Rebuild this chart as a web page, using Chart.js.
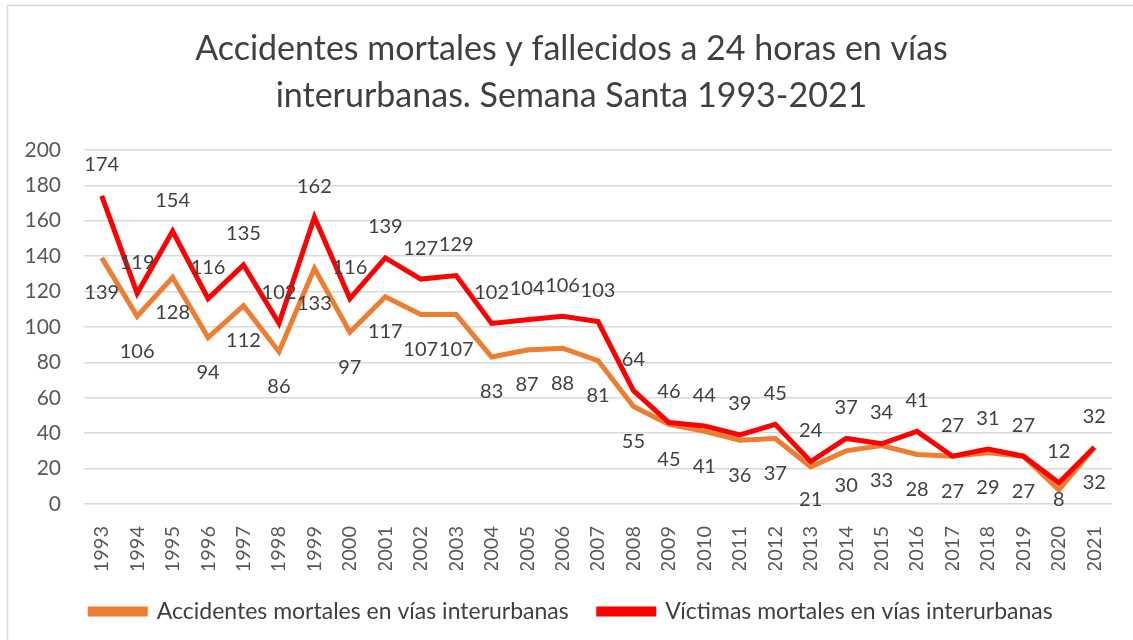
<!DOCTYPE html>
<html>
<head>
<meta charset="utf-8">
<script src="https://cdn.jsdelivr.net/npm/chart.js@4"></script>
<style>
    html, body { margin: 0; padding: 0; background: #ffffff; }
    #wrap { width: 1133px; height: 640px; }
</style>
</head>
<body>
<div id="wrap"><canvas id="accChart" width="1133" height="640"></canvas></div>
<script>
const years = ['1993', '1994', '1995', '1996', '1997', '1998', '1999', '2000', '2001', '2002',
    '2003', '2004', '2005', '2006', '2007', '2008', '2009', '2010', '2011', '2012',
    '2013', '2014', '2015', '2016', '2017', '2018', '2019', '2020', '2021'];
const accidentes = [139, 106, 128, 94, 112, 86, 133, 97, 117, 107,
    107, 83, 87, 88, 81, 55, 45, 41, 36, 37,
    21, 30, 33, 28, 27, 29, 27, 8, 32];
const victimas = [174, 119, 154, 116, 135, 102, 162, 116, 139, 127,
    129, 102, 104, 106, 103, 64, 46, 44, 39, 45,
    24, 37, 34, 41, 27, 31, 27, 12, 32];
const yTicks = [0, 20, 40, 60, 80, 100, 120, 140, 160, 180, 200];

const FONT = 'Lato, "Open Sans", sans-serif';

// etiquetas de valor: víctimas arriba, accidentes abajo (sin salir del área)
const valueLabels = {
    id: 'valueLabels',
    afterDatasetsDraw(chart) {
        const ctx = chart.ctx;
        const bottom = chart.chartArea.bottom - 4;
        ctx.save();
        ctx.font = '20px ' + FONT;
        ctx.fillStyle = '#404040';
        ctx.textAlign = 'center';
        ctx.textBaseline = 'middle';
        chart.data.datasets.forEach((ds, i) => {
            const meta = chart.getDatasetMeta(i);
            const off = ds.labelPos === 'above' ? -31 : 35;
            meta.data.forEach((pt, j) => {
                ctx.fillText(String(ds.data[j]), pt.x, Math.min(pt.y + off, bottom));
            });
        });
        ctx.restore();
    }
};

// marco gris del gráfico
const frame = {
    id: 'frame',
    beforeDraw(chart) {
        const ctx = chart.ctx;
        ctx.save();
        ctx.fillStyle = '#ffffff';
        ctx.fillRect(0, 0, chart.width, chart.height);
        ctx.strokeStyle = '#d9d9d9';
        ctx.lineWidth = 1.5;
        ctx.beginPath();
        ctx.moveTo(7.5, chart.height + 2);
        ctx.lineTo(7.5, 5.5);
        ctx.lineTo(chart.width + 2, 5.5);
        ctx.stroke();
        ctx.restore();
    }
};

const config = {
    type: 'line',
    data: {
        labels: years,
        datasets: [
            {
                label: 'Accidentes mortales en vías interurbanas',
                data: accidentes,
                borderColor: '#ED7D31',
                backgroundColor: '#ED7D31',
                borderWidth: 5,
                pointRadius: 0,
                tension: 0,
                order: 2,
                labelPos: 'below'
            },
            {
                label: 'Víctimas mortales en vías interurbanas',
                data: victimas,
                borderColor: '#FF0000',
                backgroundColor: '#FF0000',
                borderWidth: 5,
                pointRadius: 0,
                tension: 0,
                order: 1,
                labelPos: 'above'
            }
        ]
    },
    options: {
        responsive: false,
        animation: false,
        layout: {
            padding: { left: 10, right: 0, top: 5, bottom: 7 }
        },
        scales: {
            x: {
                offset: true,
                grid: { display: false },
                border: { display: false },
                afterFit(axis) {
                    axis.height = 66;
                },
                ticks: {
                    color: '#595959',
                    font: { family: FONT, size: 20 },
                    minRotation: 90,
                    maxRotation: 90,
                    autoSkip: false,
                    padding: 14
                }
            },
            y: {
                min: 0,
                max: 200,
                afterBuildTicks(axis) {
                    axis.ticks = yTicks.map(v => ({ value: v }));
                },
                afterFit(axis) {
                    axis.width = 74;
                },
                grid: { color: '#d9d9d9', lineWidth: 1.5, drawTicks: false },
                border: { display: false },
                ticks: {
                    color: '#595959',
                    font: { family: FONT, size: 21 },
                    padding: 23
                }
            },
            // eje vacío para dejar margen a la derecha
            y2: {
                position: 'right',
                grid: { display: false },
                border: { display: false },
                ticks: { display: false },
                afterFit(axis) {
                    axis.width = 21;
                }
            }
        },
        plugins: {
            title: {
                display: true,
                text: ['Accidentes mortales y fallecidos a 24 horas en vías', 'interurbanas. Semana Santa 1993-2021'],
                color: '#404040',
                font: { family: FONT, size: 34, weight: 'normal', lineHeight: 1.38 },
                padding: { top: 21, bottom: 30 }
            },
            legend: {
                position: 'bottom',
                labels: {
                    color: '#404040',
                    font: { family: FONT, size: 23 },
                    boxWidth: 55,
                    boxHeight: 5,
                    padding: 30,
                    sort: (a, b) => a.datasetIndex - b.datasetIndex
                }
            },
            tooltip: { enabled: false }
        }
    },
    plugins: [frame, valueLabels]
};

const ctx = document.getElementById('accChart').getContext('2d');
new Chart(ctx, config);
</script>
</body>
</html>
